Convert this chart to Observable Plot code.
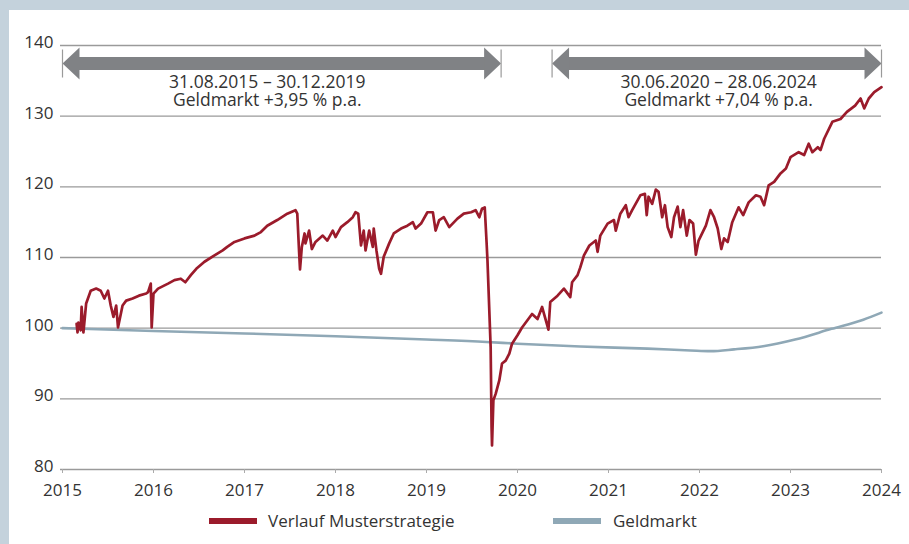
<!DOCTYPE html>
<html>
<head>
<meta charset="utf-8">
<script src="https://cdn.jsdelivr.net/npm/d3@7"></script>
<script src="https://cdn.jsdelivr.net/npm/@observablehq/plot@0.6"></script>
<style>
  html, body { margin: 0; padding: 0; background: #c4d2dc; }
  #wrap { position: relative; width: 909px; height: 544px; overflow: hidden; background: #c4d2dc; font-family: "Open Sans", sans-serif; }
  #panel { position: absolute; left: 9px; top: 10px; right: 0; bottom: 0; background: #fff; }
  #chart { position: absolute; left: 0; top: 0; }
  #legend { position: absolute; left: 0; top: 509px; width: 909px; height: 24px; font-size: 17px; color: #333; }
  .sw { position: absolute; top: 9px; width: 48px; height: 6px; }
  .lt { position: absolute; top: 0; line-height: 24px; white-space: nowrap; }
</style>
</head>
<body>
<div id="wrap">
  <div id="panel"></div>
  <div id="chart"></div>
  <div id="legend">
    <div class="sw" style="left:209px;background:#9b1b2b"></div>
    <div class="lt" style="left:268px">Verlauf Musterstrategie</div>
    <div class="sw" style="left:553px;background:#8fa8b6"></div>
    <div class="lt" style="left:613px">Geldmarkt</div>
  </div>
</div>
<script>
// ---- Data ----
const strategyYears = [
  2015.155, 2015.165, 2015.175, 2015.20, 2015.21, 2015.23, 2015.26, 2015.31, 2015.37, 2015.42,
  2015.46, 2015.50, 2015.53, 2015.56, 2015.59, 2015.61, 2015.66, 2015.70, 2015.77, 2015.84,
  2015.92, 2015.94, 2015.97, 2015.98, 2016.00, 2016.05, 2016.16, 2016.23, 2016.30, 2016.35,
  2016.41, 2016.47, 2016.56, 2016.67, 2016.76, 2016.81, 2016.89, 2017.00, 2017.11, 2017.18,
  2017.25, 2017.36, 2017.47, 2017.56, 2017.58, 2017.60, 2017.61, 2017.63, 2017.66, 2017.67,
  2017.71, 2017.74, 2017.78, 2017.86, 2017.91, 2017.97, 2018.00, 2018.06, 2018.13, 2018.19,
  2018.22, 2018.25, 2018.28, 2018.31, 2018.33, 2018.37, 2018.41, 2018.42, 2018.45, 2018.48,
  2018.50, 2018.53, 2018.59, 2018.64, 2018.72, 2018.79, 2018.85, 2018.88, 2018.94, 2019.01,
  2019.07, 2019.10, 2019.14, 2019.19, 2019.25, 2019.34, 2019.41, 2019.49, 2019.54, 2019.58,
  2019.61, 2019.64, 2019.66, 2019.67, 2019.705, 2019.715, 2019.72, 2019.735, 2019.76, 2019.80,
  2019.83, 2019.87, 2019.91, 2019.94, 2020.00, 2020.05, 2020.16, 2020.22, 2020.27, 2020.34,
  2020.36, 2020.44, 2020.51, 2020.58, 2020.60, 2020.66, 2020.69, 2020.73, 2020.79, 2020.86,
  2020.88, 2020.91, 2020.99, 2021.06, 2021.08, 2021.13, 2021.19, 2021.22, 2021.26, 2021.35,
  2021.40, 2021.42, 2021.44, 2021.48, 2021.52, 2021.55, 2021.59, 2021.62, 2021.65, 2021.69,
  2021.72, 2021.76, 2021.79, 2021.82, 2021.86, 2021.89, 2021.93, 2021.96, 2021.99, 2022.07,
  2022.12, 2022.16, 2022.20, 2022.24, 2022.27, 2022.31, 2022.36, 2022.43, 2022.48, 2022.54,
  2022.62, 2022.67, 2022.71, 2022.76, 2022.82, 2022.89, 2022.95, 2023.00, 2023.09, 2023.15,
  2023.20, 2023.24, 2023.30, 2023.33, 2023.37, 2023.46, 2023.55, 2023.62, 2023.71, 2023.77,
  2023.81, 2023.86, 2023.92, 2024.00
];
const strategyValues = [
  100.6, 99.4, 100.8, 99.7, 103.0, 99.4, 103.5, 105.3, 105.6, 105.3,
  104.2, 105.3, 103.2, 101.6, 103.2, 100.1, 103.2, 103.9, 104.2, 104.6,
  104.9, 105.1, 106.3, 100.1, 104.9, 105.6, 106.3, 106.8, 107.0, 106.5,
  107.5, 108.4, 109.4, 110.3, 111.0, 111.5, 112.2, 112.7, 113.1, 113.6,
  114.5, 115.3, 116.2, 116.7, 116.2, 110.8, 108.3, 111.5, 113.4, 112.0,
  113.8, 111.2, 112.2, 113.1, 112.4, 113.8, 112.9, 114.3, 115.0, 115.7,
  116.4, 116.2, 111.7, 113.8, 111.0, 113.8, 111.5, 114.1, 111.0, 108.4,
  107.7, 110.1, 112.0, 113.4, 114.1, 114.5, 115.0, 114.1, 114.8, 116.4,
  116.4, 113.8, 115.3, 115.7, 114.3, 115.5, 116.2, 116.4, 116.7, 115.7,
  116.9, 117.1, 112.2, 109.6, 97.3, 86.0, 83.4, 89.8, 90.7, 92.6,
  95.0, 95.4, 96.4, 97.8, 99.0, 100.1, 102.0, 101.3, 103.0, 99.8,
  103.7, 104.6, 105.6, 104.4, 106.5, 107.5, 108.6, 110.3, 111.7, 112.4,
  110.8, 113.1, 114.8, 115.3, 113.8, 116.2, 117.4, 115.7, 116.7, 118.8,
  119.0, 116.0, 118.6, 117.6, 119.6, 119.3, 115.7, 117.4, 114.3, 112.9,
  115.7, 117.2, 114.3, 116.7, 113.1, 115.3, 114.8, 110.4, 112.4, 114.5,
  116.7, 115.7, 114.1, 111.2, 112.7, 112.2, 115.0, 117.1, 116.0, 117.8,
  118.8, 118.6, 117.4, 120.2, 120.7, 121.9, 122.6, 124.2, 124.9, 124.5,
  126.1, 124.9, 125.6, 125.2, 126.8, 129.2, 129.6, 130.6, 131.5, 132.5,
  131.1, 132.5, 133.4, 134.1
];
const moneyYears = [2015.0, 2016.0, 2017.0, 2018.0, 2019.0, 2019.66, 2020.0, 2020.69, 2021.43, 2021.9, 2022.12, 2022.38, 2022.7, 2023.05, 2023.45, 2023.8, 2024.0];
const moneyValues = [100.0, 99.6, 99.25, 98.85, 98.4, 98.05, 97.8, 97.4, 97.1, 96.85, 96.75, 97.0, 97.45, 98.4, 99.9, 101.2, 102.2];

const xTickYears = [2015, 2016, 2017, 2018, 2019, 2020, 2021, 2022, 2023, 2024];
const yTickValues = [80, 90, 100, 110, 120, 130, 140];

// period annotations (double arrows)
const periodStarts = [2015.0, 2020.38];
const periodEnds = [2019.82, 2024.0];
const periodLevel = 137.45;
const periodDates = ["31.08.2015 \u2013 30.12.2019", "30.06.2020 \u2013 28.06.2024"];
const periodReturns = ["Geldmarkt +3,95 % p.a.", "Geldmarkt +7,04 % p.a."];
const periodLabelX = [2017.25, 2022.21];
const periodLine1Y = 133.95;
const periodLine2Y = 131.4;

// ---- Build tables ----
const strategy = strategyYears.map((x, i) => ({x, y: strategyValues[i]}));
const money = moneyYears.map((x, i) => ({x, y: moneyValues[i]}));
const periods = periodStarts.map((s, i) => ({x1: s, x2: periodEnds[i], y: periodLevel, d: periodDates[i], r: periodReturns[i], lx: periodLabelX[i]}));
const heads = periods.flatMap(p => [{x: p.x1, y: p.y, rot: 180}, {x: p.x2, y: p.y, rot: 0}]);

const headSymbol = {
  draw(ctx) { ctx.moveTo(0, 0); ctx.lineTo(-17, -16); ctx.lineTo(-17, 16); ctx.closePath(); }
};
const barSymbol = {
  draw(ctx) { ctx.moveTo(0, -14); ctx.lineTo(0, 14); }
};

const RED = "#9b1b2b", BLUE = "#8fa8b6", GREY = "#808285";

const chart = Plot.plot({
  width: 909,
  height: 500,
  marginLeft: 62,
  marginRight: 28,
  marginTop: 45,
  marginBottom: 31,
  style: {fontFamily: "Open Sans, sans-serif", fontSize: "17px", color: "#333", background: "transparent", overflow: "visible"},
  x: {domain: [2015, 2024]},
  y: {domain: [80, 140]},
  marks: [
    Plot.ruleY(yTickValues, {stroke: "#9a9a9a", strokeWidth: 1.3, insetLeft: -2}),
    Plot.axisY({ticks: yTickValues, tickSize: 0, tickPadding: 9, dy: -3, label: null, fill: "#333"}),
    Plot.axisX({ticks: xTickYears, tickFormat: d => String(d), tickSize: 4, tickPadding: 10, label: null, stroke: "#aaa", fill: "#333"}),
    Plot.line(money, {x: "x", y: "y", stroke: BLUE, strokeWidth: 2.6, curve: "monotone-x"}),
    Plot.line(strategy, {x: "x", y: "y", stroke: RED, strokeWidth: 2.7, strokeLinejoin: "round"}),
    Plot.ruleY(periods, {x1: "x1", x2: "x2", y: "y", stroke: GREY, strokeWidth: 13, insetLeft: 15, insetRight: 15}),
    Plot.dot(heads, {x: "x", y: "y", symbol: headSymbol, rotate: "rot", fill: GREY, stroke: "none", r: 10}),
    Plot.dot(periods.flatMap(p => [{x: p.x1, y: p.y}, {x: p.x2, y: p.y}]), {x: "x", y: "y", symbol: barSymbol, stroke: "#9a9a9a", fill: "none", strokeWidth: 1.2}),
    Plot.text(periods, {x: "lx", y: periodLine1Y, text: "d", fontSize: 17.5, fill: "#333", textAnchor: "middle", lineAnchor: "bottom"}),
    Plot.text(periods, {x: "lx", y: periodLine2Y, text: "r", fontSize: 17.5, fill: "#333", textAnchor: "middle", lineAnchor: "bottom"})
  ]
});
document.getElementById("chart").appendChild(chart);
</script>
</body>
</html>
